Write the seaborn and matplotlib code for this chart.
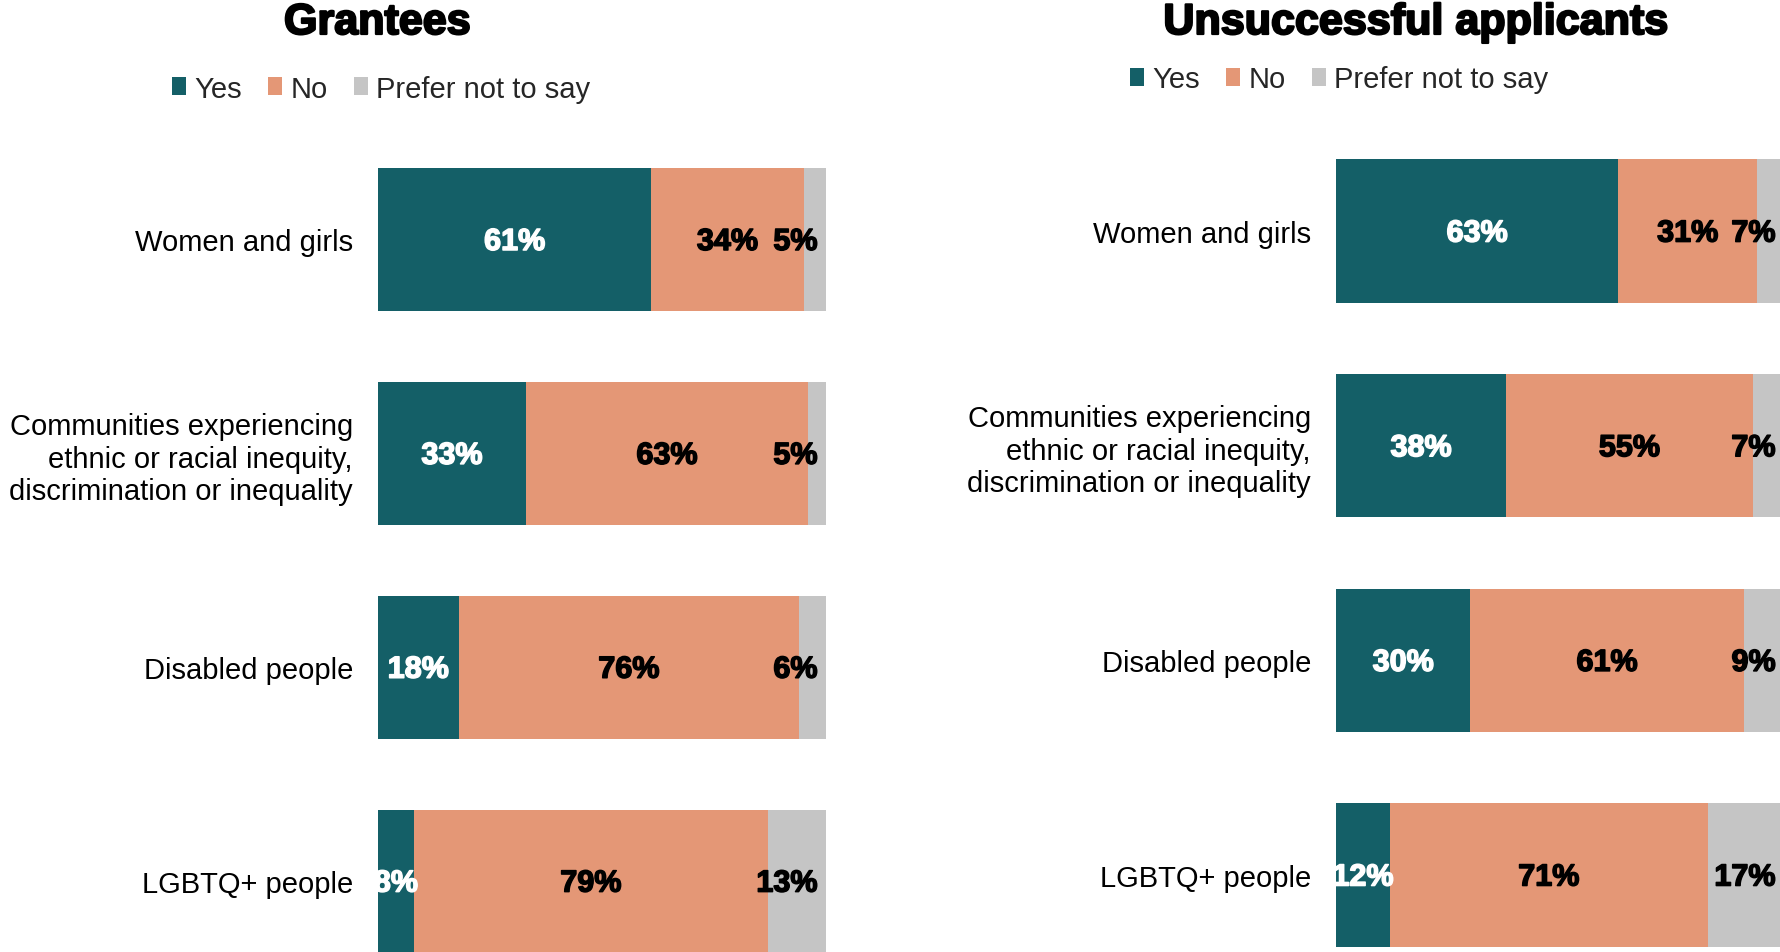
import matplotlib
matplotlib.use("Agg")
import matplotlib.pyplot as plt
import matplotlib.patheffects as pe
from matplotlib.patches import Patch
import pandas as pd
import seaborn as sns

# Survey data: share of respondents answering each option, per group
categories = [
    "Women and girls",
    "Communities experiencing\nethnic or racial inequity,\ndiscrimination or inequality",
    "Disabled people",
    "LGBTQ+ people",
]
responses = ["Yes", "No", "Prefer not to say"]

grantees_yes = [61, 33, 18, 8]
grantees_no = [34, 63, 76, 79]
grantees_pnts = [5, 5, 6, 13]

unsuccessful_yes = [63, 38, 30, 12]
unsuccessful_no = [31, 55, 61, 71]
unsuccessful_pnts = [7, 7, 9, 17]

panel_titles = ["Grantees", "Unsuccessful applicants"]

TEAL = "#145F67"
SALMON = "#E49776"
GREY = "#C5C5C5"
colors = [TEAL, SALMON, GREY]

sns.set_theme(style="white")
plt.rcParams["font.family"] = ["Liberation Sans", "DejaVu Sans"]

W, H = 1781, 953
fig = plt.figure(figsize=(W / 100, H / 100), dpi=100)
fig.patch.set_facecolor("white")

LABEL_FS = 21
VALUE_FS = 22
TITLE_FS = 31


def heavy(color, lw):
    # thicken the glyphs a little for a heavier bold look
    return [pe.withStroke(linewidth=lw, foreground=color)]


def draw_panel(ax, yes, no, pnts):
    df = pd.DataFrame({"category": categories, "Yes": yes, "No": no, "Prefer": pnts})
    df["yes_no"] = df["Yes"] + df["No"]
    df["total"] = df["yes_no"] + df["Prefer"]

    # stacked bars: draw cumulative totals back to front
    for col, c in [("total", GREY), ("yes_no", SALMON), ("Yes", TEAL)]:
        sns.barplot(data=df, y="category", x=col, orient="h", color=c,
                    saturation=1, width=0.668, linewidth=0, ax=ax)

    ax.set_xlim(0, 100)
    ax.set_ylim(3.5, -0.5)
    ax.set_xlabel("")
    ax.set_ylabel("")
    ax.set_xticks([])
    for s in ax.spines.values():
        s.set_visible(False)
    ax.tick_params(axis="y", length=0, pad=18, labelsize=LABEL_FS, labelcolor="black")
    for lbl in ax.get_yticklabels():
        lbl.set_linespacing(1.2)

    last_labels = []
    for i, row in df.iterrows():
        segs = [(0, row["Yes"], row["Yes"], "white"),
                (row["Yes"], row["yes_no"], row["No"], "black"),
                (row["yes_no"], row["total"], row["Prefer"], "black")]
        for k, (a, b, v, tc) in enumerate(segs):
            t = ax.text((a + b) / 2, i + 0.012, f"{v}%", ha="center", va="center",
                        fontsize=VALUE_FS, fontweight="bold", color=tc, clip_on=True,
                        path_effects=heavy(tc, 1.1))
            if k == 2:
                last_labels.append(t)
    return last_labels


ax_l = fig.add_axes([378 / W, 1 - 989 / H, 448 / W, (989 - 133.5) / H])
ax_r = fig.add_axes([1336 / W, 1 - 983.3 / H, 448 / W, (983.3 - 124.7) / H])

labels_l = draw_panel(ax_l, grantees_yes, grantees_no, grantees_pnts)
labels_r = draw_panel(ax_r, unsuccessful_yes, unsuccessful_no, unsuccessful_pnts)

# keep end-of-bar labels inside the plot area
renderer = fig.canvas.get_renderer()
for ax, labels in [(ax_l, labels_l), (ax_r, labels_r)]:
    px_per_unit = ax.get_window_extent().width / 100.0
    limit = 100 - 8.5 / px_per_unit
    for t in labels:
        w = t.get_window_extent(renderer).width / px_per_unit
        x = t.get_position()[0]
        if x + w / 2 > limit:
            t.set_x(limit)
            t.set_ha("right")

# titles
fig.text(377 / W, 1 - 35 / H, panel_titles[0], ha="center", va="baseline",
         fontsize=TITLE_FS, fontweight="bold", color="black",
         path_effects=heavy("black", 1.6))
fig.text(1415 / W, 1 - 35 / H, panel_titles[1], ha="center", va="baseline",
         fontsize=TITLE_FS, fontweight="bold", color="black",
         path_effects=heavy("black", 1.6))

# legends
handles = [Patch(facecolor=c, edgecolor="none") for c in colors]
for cx, cy in [(381 / W, 1 - 89.5 / H), (1339 / W, 1 - 80.4 / H)]:
    fig.legend(handles, responses, loc="center", bbox_to_anchor=(cx, cy), ncol=3,
               frameon=False, fontsize=LABEL_FS, handlelength=0.5, handleheight=0.6,
               handletextpad=0.27, columnspacing=0.9, borderpad=0, borderaxespad=0)

fig.savefig("out.png", dpi=100, facecolor="white")
